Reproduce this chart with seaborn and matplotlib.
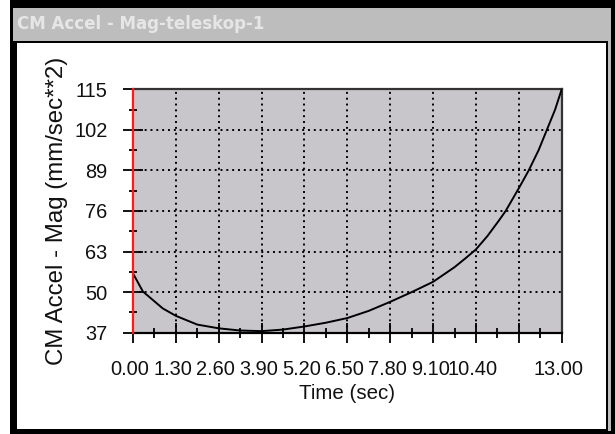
import numpy as np
import matplotlib
matplotlib.use("Agg")
import matplotlib.pyplot as plt
import matplotlib.transforms as mtrans
from matplotlib.patches import Rectangle
from matplotlib.colors import LinearSegmentedColormap
import seaborn as sns

# Centre-of-mass acceleration magnitude over time
time_sec = [0.0, 0.3, 0.6, 0.9, 1.3, 1.95, 2.6, 3.25, 3.9, 4.55, 5.2, 5.85,
            6.5, 7.15, 7.8, 8.45, 9.1, 9.75, 10.1, 10.4, 10.75, 11.1, 11.3,
            11.7, 12.0, 12.3, 12.55, 12.8, 13.0]
accel_mag = [56.0, 50.2, 47.5, 44.8, 42.4, 39.6, 38.4, 37.7, 37.5, 38.0, 39.0,
             40.2, 41.7, 44.0, 46.9, 50.0, 53.3, 58.0, 61.0, 63.7, 68.0, 73.0,
             76.0, 83.3, 89.0, 95.5, 102.0, 108.5, 115.0]

x_ticks = [0.0, 1.3, 2.6, 3.9, 5.2, 6.5, 7.8, 9.1, 10.4, 11.7, 13.0]
x_tick_labels = ["0.00", "1.30", "2.60", "3.90", "5.20", "6.50", "7.80",
                 "9.10", "10.40", "", "13.00"]
y_ticks = [37, 50, 63, 76, 89, 102, 115]

window_title = "CM Accel - Mag-teleskop-1"
x_label = "Time (sec)"
y_label = "CM Accel - Mag (mm/sec**2)"

W, H = 615, 434
fig = plt.figure(figsize=(W / 100, H / 100), dpi=100)
fig.patch.set_facecolor("white")

# Window frame drawn in pixel coordinates
bg = fig.add_axes([0, 0, 1, 1], zorder=-1)
bg.axis("off")


def box(x0, y0, x1, y1, color):
    bg.add_patch(Rectangle((x0, y0), x1 - x0, y1 - y0,
                           facecolor=color, edgecolor="none"))


box(10, 0, 615, 434, "black")
box(13, 8, 611, 431, "#bdbdbd")
bar_cmap = LinearSegmentedColormap.from_list("bar", ["#858585", "#cbc9cd"])
bg.imshow(np.linspace(0, 1, 256).reshape(1, -1), extent=(13, 611, 38, 8),
          cmap=bar_cmap, aspect="auto", interpolation="bilinear")
box(12, 41, 608, 431, "black")
box(17, 43, 606, 429, "white")
bg.text(17, 24, window_title, color="#e6e6e6", fontsize=12.0,
        family="DejaVu Sans", weight="bold", va="center", ha="left")
bg.set_xlim(0, W)
bg.set_ylim(H, 0)

# Plot area
ax = fig.add_axes([133 / W, (H - 332.7) / H, 428.7 / W, 243.4 / H])
ax.set_facecolor("#c8c6cb")

sns.lineplot(x=time_sec, y=accel_mag, ax=ax, color="black", linewidth=1.4,
             zorder=5)

ax.set_xlim(0, 13)
ax.set_ylim(37, 115)
ax.set_xticks(x_ticks)
ax.set_xticklabels(x_tick_labels)
ax.set_xticks(np.arange(0.65, 13, 1.3), minor=True)
ax.set_yticks(y_ticks)
ax.set_yticklabels([str(v) for v in y_ticks])
ax.set_yticks(np.arange(43.5, 115, 13), minor=True)

ax.grid(True, which="major", color="black", linestyle=(0, (1, 2)),
        linewidth=1.4)
ax.set_axisbelow(True)

for side in ("top", "right"):
    ax.spines[side].set_color("#333333")
    ax.spines[side].set_linewidth(1.6)
ax.spines["bottom"].set_color("black")
ax.spines["bottom"].set_linewidth(1.6)
ax.spines["left"].set_color("#ff1a1a")
ax.spines["left"].set_linewidth(1.6)
ax.spines["left"].set_zorder(6)

ax.tick_params(axis="both", which="major", direction="inout", color="black",
               width=1.3, labelsize=14.4, labelcolor="#111111")
ax.tick_params(axis="x", which="major", length=14.4, pad=12.5)
ax.tick_params(axis="y", which="major", length=13.7, pad=11.5)
ax.tick_params(axis="x", which="minor", direction="inout", length=7.2,
               width=1.3, color="black")
ax.tick_params(axis="y", which="minor", direction="inout", length=5.8,
               width=1.3, color="black")

for lbl in ax.get_xticklabels() + ax.get_yticklabels():
    lbl.set_family("Liberation Sans")
shift = mtrans.ScaledTranslation(-3 / 100, 0, fig.dpi_scale_trans)
for lbl in ax.get_xticklabels():
    lbl.set_transform(lbl.get_transform() + shift)

ax.set_xlabel(x_label, family="Liberation Sans", fontsize=14.8,
              color="#111111", labelpad=3.5)
ax.set_ylabel(y_label, family="Liberation Sans", fontsize=17.3,
              color="#111111", labelpad=4.5)

fig.savefig("out.png", dpi=100)
